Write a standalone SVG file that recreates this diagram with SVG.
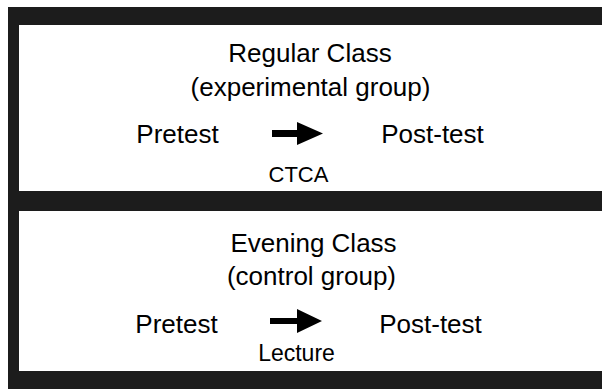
<svg xmlns="http://www.w3.org/2000/svg" width="602" height="389" viewBox="0 0 602 389">
<style>
.frame{fill:#1c1c1c}
.t{font-family:"Liberation Sans",Arial,sans-serif;fill:#000;text-anchor:middle}
.big{font-size:26px}
.lbl{font-size:23px}
.arrow{fill:#000}
</style>
<rect width="602" height="389" fill="#fff"/>
<g id="frame">
<rect class="frame" x="8" y="7" width="594" height="18"/>
<rect class="frame" x="8" y="7" width="11" height="382"/>
<rect class="frame" x="8" y="191" width="594" height="20"/>
<rect class="frame" x="8" y="371" width="594" height="18"/>
</g>
<g id="regular">
<text class="t big" x="310" y="62" font-size="25">Regular Class</text>
<text class="t big" x="310.5" y="96" font-size="26.5">(experimental group)</text>
</g>
<g id="pretest1"><text class="t big" x="177.5" y="143">Pretest</text></g>
<g id="posttest1"><text class="t big" x="432.5" y="143">Post-test</text></g>
<g id="evening">
<text class="t big" x="313.5" y="252">Evening Class</text>
<text class="t big" x="311.5" y="285">(control group)</text>
</g>
<g id="pretest2"><text class="t big" x="176.5" y="333">Pretest</text></g>
<g id="posttest2"><text class="t big" x="430.5" y="333">Post-test</text></g>
<g id="connectors">
<polygon class="arrow" points="272,130 297,130 297,122 323,133.5 297,145 297,137 272,137"/>
<text class="t lbl" x="298.5" y="182" style="font-size:22px">CTCA</text>
<polygon class="arrow" points="270,318 297,318 297,309 322,321 297,333 297,324 270,324"/>
<text class="t lbl" x="296.5" y="361">Lecture</text>
</g>
</svg>
